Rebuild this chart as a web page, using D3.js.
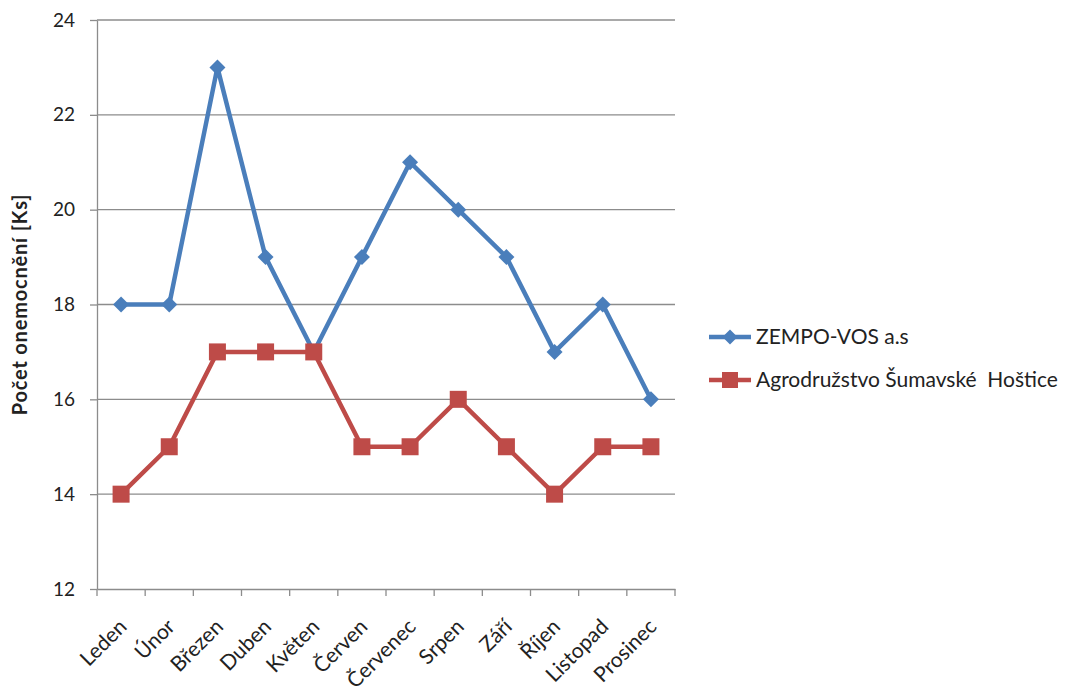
<!DOCTYPE html>
<meta charset="utf-8">
<style>
  body { margin: 0; background: #fff; }
  text { font-family: Lato, "Open Sans", sans-serif; fill: #222; }
  .tick text { font-size: 19px; }
  .grid line { stroke: #8c8c8c; stroke-width: 1.3px; }
  .axis path, .axis line { stroke: #8c8c8c; stroke-width: 1.3px; }
</style>
<svg width="1067" height="686"></svg>
<script src="https://d3js.org/d3.v7.min.js"></script>
<script>
  var months = ["Leden", "Únor", "Březen", "Duben", "Květen", "Červen", "Červenec", "Srpen", "Září", "Říjen", "Listopad", "Prosinec"];
  var zempo = [18, 18, 23, 19, 17, 19, 21, 20, 19, 17, 18, 16];
  var agro = [14, 15, 17, 17, 17, 15, 15, 16, 15, 14, 15, 15];
  var seriesNames = ["ZEMPO-VOS a.s", "Agrodružstvo Šumavské  Hoštice"];
  var yTicks = [12, 14, 16, 18, 20, 22, 24];

  var svg = d3.select("svg"),
      plotL = 97, plotR = 675, plotT = 20, plotB = 589;

  var x = d3.scaleBand().domain(months).range([plotL, plotR]);
  var y = d3.scaleLinear().domain([12, 24]).range([plotB, plotT]);

  // gridlines
  svg.append("g").attr("class", "grid")
    .selectAll("line").data(yTicks.slice(1)).enter().append("line")
    .attr("x1", plotL).attr("x2", plotR)
    .attr("y1", function(d) { return y(d); }).attr("y2", function(d) { return y(d); });

  // y axis
  var yAxis = svg.append("g").attr("class", "axis")
    .attr("transform", "translate(" + plotL + ",0)")
    .call(d3.axisLeft(y).tickValues(yTicks).tickSize(7).tickPadding(15).tickSizeOuter(0));

  // x axis
  var xAxis = svg.append("g").attr("class", "axis")
    .attr("transform", "translate(0," + plotB + ")")
    .call(d3.axisBottom(x).tickSize(0).tickSizeOuter(0));
  xAxis.selectAll(".tick text").remove();
  var bounds = months.map(function(m) { return x(m); }).concat([plotR]);
  xAxis.selectAll(".sep").data(bounds).enter().append("line")
    .attr("x1", function(d) { return d; }).attr("x2", function(d) { return d; })
    .attr("y1", 0).attr("y2", 7)
    .attr("stroke", "#8c8c8c").attr("stroke-width", 1.3);
  xAxis.selectAll(".lbl").data(months).enter().append("text")
    .attr("font-size", 21)
    .attr("text-anchor", "end")
    .attr("transform", function(d) { return "translate(" + (x(d) + x.bandwidth() / 2 + 7) + ",39) rotate(-45)"; })
    .text(function(d) { return d; });

  // y title
  svg.append("text")
    .attr("transform", "translate(27," + ((plotT + plotB) / 2) + ") rotate(-90)")
    .attr("text-anchor", "middle")
    .attr("font-size", 20).attr("font-weight", "bold")
    .attr("letter-spacing", 0.8)
    .text("Počet onemocnění [Ks]");

  var cx = function(d, i) { return x(months[i]) + x.bandwidth() / 2; };
  var line = d3.line().x(cx).y(function(d) { return y(d); });

  var blue = "#4a7ebb", red = "#be4b48";

  function diamond(sel, px, py, s) {
    sel.append("path").attr("d", "M" + px + "," + (py - s) + "L" + (px + s) + "," + py + "L" + px + "," + (py + s) + "L" + (px - s) + "," + py + "Z")
      .attr("fill", blue);
  }

  svg.append("path").datum(zempo).attr("d", line)
    .attr("fill", "none").attr("stroke", blue).attr("stroke-width", 4.5).attr("stroke-linejoin", "round");
  var g1 = svg.append("g");
  zempo.forEach(function(d, i) { diamond(g1, cx(d, i), y(d), 8); });

  svg.append("path").datum(agro).attr("d", line)
    .attr("fill", "none").attr("stroke", red).attr("stroke-width", 4.5).attr("stroke-linejoin", "round");
  svg.append("g").selectAll("rect").data(agro).enter().append("rect")
    .attr("x", function(d, i) { return cx(d, i) - 8.5; })
    .attr("y", function(d) { return y(d) - 8.5; })
    .attr("width", 17).attr("height", 17)
    .attr("fill", red);

  // legend
  var lg = svg.append("g");
  var ly = [337, 380];
  lg.append("line").attr("x1", 709).attr("x2", 751).attr("y1", ly[0]).attr("y2", ly[0]).attr("stroke", blue).attr("stroke-width", 4.5);
  diamond(lg, 730, ly[0], 7.5);
  lg.append("line").attr("x1", 709).attr("x2", 751).attr("y1", ly[1]).attr("y2", ly[1]).attr("stroke", red).attr("stroke-width", 4.5);
  lg.append("rect").attr("x", 722).attr("y", ly[1] - 8).attr("width", 16).attr("height", 16).attr("fill", red);
  seriesNames.forEach(function(n, i) {
    lg.append("text").attr("x", 756).attr("y", ly[i]).attr("dy", "0.35em").attr("font-size", 21).style("white-space", "pre").text(n);
  });
</script>
